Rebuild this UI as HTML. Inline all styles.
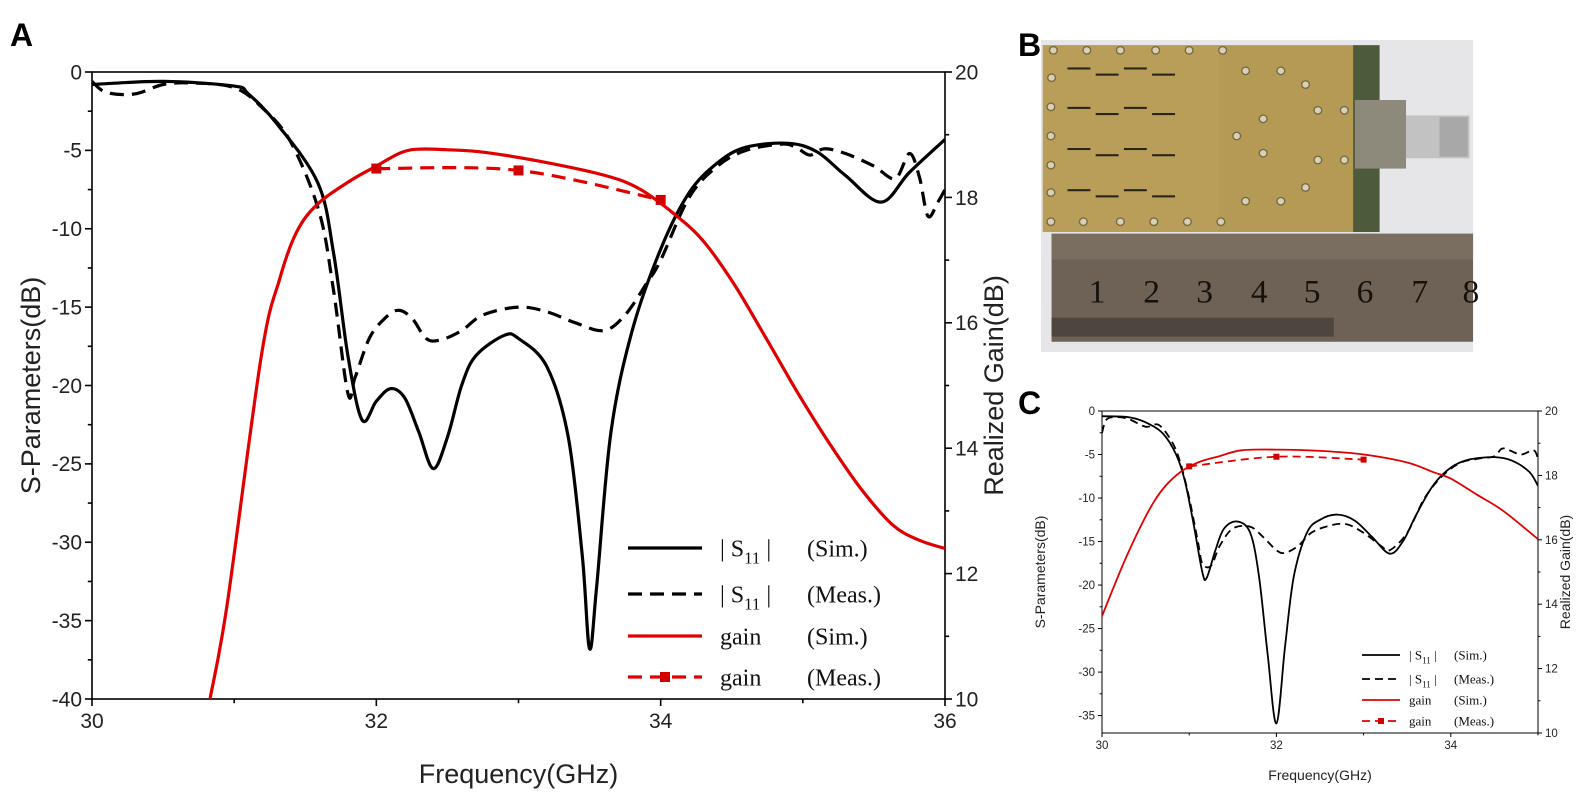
<!DOCTYPE html>
<html><head><meta charset="utf-8">
<style>
html,body{margin:0;padding:0;background:#fff;}
body{width:1582px;height:799px;overflow:hidden;position:relative;font-family:"Liberation Sans",sans-serif;}
svg{position:absolute;left:0;top:0;}
</style></head>
<body>
<svg id="fig" width="1582" height="799" viewBox="0 0 1582 799">
  <text x="10" y="46" font-size="32" font-weight="bold">A</text>
  <text x="1018" y="56" font-size="32" font-weight="bold">B</text>
  <text x="1018" y="414" font-size="32" font-weight="bold">C</text>
  <g id="photo" transform="translate(1041,40) scale(0.3527,0.3429)">
    <rect x="0" y="0" width="1225" height="910" fill="#e6e6e8"/>
    <rect x="5" y="15" width="885" height="545" fill="#b59a55"/>
    <rect x="5" y="15" width="500" height="545" fill="#bca15c" opacity="0.5"/>
    <rect x="885" y="15" width="75" height="545" fill="#4e5a3c"/>
    <rect x="890" y="175" width="145" height="200" fill="#8d8a7c"/>
    <rect x="1035" y="220" width="180" height="125" fill="#c2c2c2"/>
    <rect x="1130" y="225" width="80" height="115" fill="#a8a8a8"/>
    <rect x="30" y="565" width="1195" height="315" fill="#6e6256"/>
    <rect x="30" y="565" width="1195" height="75" fill="#7a6e60"/>
    <rect x="30" y="810" width="800" height="55" fill="#4e463e"/>
    <g fill="#15110d" font-family="Liberation Serif,serif" font-size="95">
      <text x="135" y="765">1</text><text x="290" y="765">2</text><text x="440" y="765">3</text><text x="595" y="765">4</text><text x="745" y="765">5</text><text x="895" y="765">6</text><text x="1050" y="765">7</text><text x="1195" y="765">8</text>
    </g>
    <g id="vias" fill="#d8d0b8" stroke="#7a6a40" stroke-width="4"></g>
    <g id="slots" fill="#2a2418"></g>
  </g>
  <g id="panelA"></g>
  <g id="panelC"></g>
</svg>
<script>
// ---------- Panel A data ----------
const aS11SimF = [30,30.5,31,31.1,31.3,31.59,31.7,31.8,31.9,32.0,32.1,32.2,32.3,32.4,32.5,32.6,32.7,32.9,33.0,33.2,33.35,33.45,33.5,33.55,33.65,33.8,34.0,34.2,34.4,34.6,34.9,35.1,35.3,35.55,35.75,36];
const aS11SimV = [-0.8,-0.6,-0.9,-1.4,-3.3,-7.1,-11.6,-18.1,-22.2,-21,-20.2,-20.8,-23,-25.3,-23.3,-20,-18.1,-16.8,-17,-18.8,-23.3,-31,-36.8,-32.8,-23,-16.5,-11.3,-7.7,-5.8,-4.8,-4.55,-5.1,-6.6,-8.3,-6.4,-4.3];
const aS11MeasF = [30,30.1,30.3,30.5,30.7,31,31.2,31.4,31.6,31.7,31.8,31.85,31.95,32.05,32.15,32.25,32.35,32.45,32.6,32.75,33.0,33.2,33.4,33.6,33.75,33.9,34.0,34.2,34.4,34.6,34.85,34.95,35.05,35.15,35.3,35.5,35.65,35.75,35.82,35.88,35.95,36];
const aS11MeasV = [-0.6,-1.3,-1.4,-0.8,-0.7,-1.0,-2.3,-4.5,-9,-14,-20.5,-19.5,-17,-15.8,-15.2,-15.7,-17,-17.1,-16.5,-15.5,-15,-15.3,-16,-16.5,-15.5,-13.5,-12,-8,-6,-5,-4.6,-4.8,-5.3,-4.9,-5.2,-6,-6.8,-5.2,-6.7,-9.2,-8.3,-7.5];
const aGainSimF = [30.83,30.95,31.19,31.32,31.44,31.59,31.82,32.0,32.18,32.31,32.49,32.76,33.21,33.61,33.84,34.06,34.29,34.51,34.73,34.96,35.18,35.41,35.63,35.81,36];
const aGainSimV = [10,11.5,15.46,16.7,17.45,17.9,18.27,18.5,18.72,18.77,18.76,18.72,18.55,18.35,18.15,17.8,17.33,16.64,15.8,14.9,14.1,13.35,12.78,12.54,12.4];
const aGainMeasF = [32,33,34];
const aGainMeasV = [18.46,18.43,17.96];
const aXTicks = [30,32,34,36];
const aYTicks = [0,-5,-10,-15,-20,-25,-30,-35,-40];
const aY2Ticks = [10,12,14,16,18,20];
// ---------- Panel C data ----------
const cS11SimF = [30,30.3,30.5,30.7,30.85,30.95,31.05,31.15,31.2,31.3,31.4,31.55,31.7,31.8,31.9,32.0,32.1,32.2,32.35,32.5,32.7,32.9,33.1,33.3,33.45,33.6,33.8,34.0,34.2,34.5,34.7,34.9,35];
const cS11SimV = [-0.6,-0.7,-1.3,-2.6,-5,-8,-13,-18.5,-19.2,-16,-13.5,-12.7,-14,-19,-28,-35.9,-27,-19,-14,-12.5,-11.9,-12.6,-14.5,-16.4,-15,-12,-8.5,-6.5,-5.6,-5.3,-5.7,-7,-8.6];
const cS11MeasF = [30,30.05,30.15,30.3,30.5,30.65,30.8,30.9,31.0,31.1,31.15,31.25,31.35,31.5,31.7,31.85,32.0,32.1,32.25,32.4,32.6,32.8,33.0,33.2,33.3,33.5,33.7,33.9,34.1,34.3,34.5,34.6,34.8,34.95,35];
const cS11MeasV = [-2.5,-1,-0.7,-0.9,-1.8,-1.6,-3.5,-6,-10,-15,-17.5,-17.8,-15.5,-13.5,-13.3,-14.5,-16,-16.3,-15.5,-14,-13.2,-13,-14,-15.5,-16,-14,-10,-7.5,-6,-5.5,-5.2,-4.3,-5,-4.5,-5.5];
const cGainSimF = [30,30.3,30.6,30.85,31.1,31.35,31.6,32.0,32.5,33.0,33.5,33.8,34.0,34.3,34.6,35];
const cGainSimV = [13.63,15.6,17.2,18.0,18.4,18.6,18.78,18.8,18.76,18.65,18.4,18.1,17.9,17.4,16.9,16.02];
const cGainMeasF = [31,32,33];
const cGainMeasV = [18.28,18.58,18.49];
const cXTicks = [30,32,34];
const cYTicks = [0,-5,-10,-15,-20,-25,-30,-35];
const cY2Ticks = [10,12,14,16,18,20];

const NS='http://www.w3.org/2000/svg';
function mk(parent,tag,attrs,text){const e=document.createElementNS(NS,tag);for(const k in attrs)e.setAttribute(k,attrs[k]);if(text!==undefined)e.textContent=text;parent.appendChild(e);return e;}
function smoothPath(P){
  let d='M'+P[0][0].toFixed(1)+','+P[0][1].toFixed(1);
  for(let i=0;i<P.length-1;i++){
    const p0=P[i-1]||P[i],p1=P[i],p2=P[i+1],p3=P[i+2]||P[i+1];
    const t=1/6;
    const c1=[p1[0]+(p2[0]-p0[0])*t,p1[1]+(p2[1]-p0[1])*t];
    const c2=[p2[0]-(p3[0]-p1[0])*t,p2[1]-(p3[1]-p1[1])*t];
    d+=' C'+c1[0].toFixed(1)+','+c1[1].toFixed(1)+' '+c2[0].toFixed(1)+','+c2[1].toFixed(1)+' '+p2[0].toFixed(1)+','+p2[1].toFixed(1);
  }
  return d;
}

function drawPanel(g,cfg,d){
  const X=f=>cfg.L+(f-cfg.x0)/(cfg.x1-cfg.x0)*(cfg.R-cfg.L);
  const Y=v=>cfg.T+(cfg.y0-v)/(cfg.y0-cfg.y1)*(cfg.B-cfg.T);
  const Y2=v=>cfg.T+(cfg.g1-v)/(cfg.g1-cfg.g0)*(cfg.B-cfg.T);
  const cp=mk(g,'clipPath',{id:cfg.id+'clip'});mk(cp,'rect',{x:cfg.L,y:cfg.T,width:cfg.R-cfg.L,height:cfg.B-cfg.T});
  const box=mk(g,'rect',{x:cfg.L,y:cfg.T,width:cfg.R-cfg.L,height:cfg.B-cfg.T,fill:'none',stroke:'#000','stroke-width':cfg.ax});
  
  
  const tl=cfg.tick;
  for(let f=cfg.x0;f<=cfg.x1+1e-9;f+=1){const major=d.xt.indexOf(f)>=0;mk(g,'line',{x1:X(f),x2:X(f),y1:cfg.B,y2:cfg.B+(major?tl:tl*0.6),stroke:'#000','stroke-width':cfg.ax});}
  d.xt.forEach(f=>{const t=mk(g,'text',{x:X(f),y:cfg.B+tl+cfg.fs*1.05,'font-size':cfg.fs,'text-anchor':'middle',fill:'#222'},String(f));
    
    });
  for(let v=cfg.y0;v>=cfg.y1-1e-9;v-=2.5){const major=d.yt.indexOf(v)>=0;mk(g,'line',{x1:cfg.L,x2:cfg.L-(major?tl:tl*0.6),y1:Y(v),y2:Y(v),stroke:'#000','stroke-width':cfg.ax});}
  d.yt.forEach(v=>{const t=mk(g,'text',{x:cfg.L-tl-3,y:Y(v)+cfg.fs*0.35,'font-size':cfg.fs,'text-anchor':'end',fill:'#222'},String(v));
    
    });
  for(let v=cfg.g0;v<=cfg.g1;v+=1){const major=d.y2t.indexOf(v)>=0;mk(g,'line',{x1:cfg.R,x2:cfg.R+(major?tl:tl*0.6),y1:Y2(v),y2:Y2(v),stroke:'#000','stroke-width':cfg.ax});}
  d.y2t.forEach(v=>{const t=mk(g,'text',{x:cfg.R+tl+3,y:Y2(v)+cfg.fs*0.35,'font-size':cfg.fs,'text-anchor':'start',fill:'#222'},String(v));
    
    });
  const xt=mk(g,'text',{x:(cfg.L+cfg.R)/2,y:cfg.xtY,'font-size':cfg.tfs,'text-anchor':'middle',fill:'#222'},'Frequency(GHz)');
  
  
  const yt=mk(g,'text',{x:0,y:0,'font-size':cfg.tfs,'text-anchor':'middle',fill:'#222',transform:`translate(${cfg.ytX},${(cfg.T+cfg.B)/2}) rotate(-90)`},'S-Parameters(dB)');
  
  
  const y2=mk(g,'text',{x:0,y:0,'font-size':cfg.tfs,'text-anchor':'middle',fill:'#222',transform:`translate(${cfg.y2tX},${(cfg.T+cfg.B)/2}) rotate(-90)`},'Realized Gain(dB)');
  
  
  const cg=mk(g,'g',{'clip-path':`url(#${cfg.id}clip)`,fill:'none','stroke-linejoin':'round'});
  const pts=(F,V,fy)=>smoothPath(F.map((f,i)=>[X(f),fy(V[i])]));
  const l1=mk(cg,'path',{d:pts(d.ssF,d.ssV,Y),stroke:'#000','stroke-width':cfg.lw});
  
  
  const l2=mk(cg,'path',{d:pts(d.smF,d.smV,Y),stroke:'#000','stroke-width':cfg.lw,'stroke-dasharray':cfg.dash});
  
  
  const l3=mk(cg,'path',{d:pts(d.gsF,d.gsV,Y2),stroke:'#e00000','stroke-width':cfg.lw});
  
  
  const l4=mk(cg,'path',{d:pts(d.gmF,d.gmV,Y2),stroke:'#e00000','stroke-width':cfg.lw,'stroke-dasharray':cfg.dash});
  
  
  d.gmF.forEach((f,i)=>{const m=mk(g,'rect',{x:X(f)-cfg.ms/2,y:Y2(d.gmV[i])-cfg.ms/2,width:cfg.ms,height:cfg.ms,fill:'#d00000'});
    
    });
  const lg=mk(g,'g',{'font-family':'"Liberation Serif",serif','font-size':cfg.lfs,fill:'#111'});
  
  
  const rows=[['#000',null,'| S','11',' | ','(Sim.)'],['#000',cfg.dash,'| S','11',' | ','(Meas.)'],['#e00000',null,'gain','','','(Sim.)'],['#e00000',cfg.dash,'gain','','','(Meas.)']];
  rows.forEach((r,i)=>{const y=cfg.legY[i];
    const e=mk(lg,'g',{});
    
    
    const ln={x1:cfg.legX0,x2:cfg.legX1,y1:y,y2:y,stroke:r[0],'stroke-width':cfg.lw};if(r[1])ln['stroke-dasharray']=r[1];mk(e,'line',ln);
    if(i===3)mk(e,'rect',{x:(cfg.legX0+cfg.legX1)/2-cfg.ms/2,y:y-cfg.ms/2,width:cfg.ms,height:cfg.ms,fill:'#d00000'});
    const t=mk(e,'text',{x:cfg.legTX,y:y+cfg.lfs*0.35});
    mk(t,'tspan',{},r[2]);if(r[3]){mk(t,'tspan',{dy:cfg.lfs*0.3,'font-size':cfg.lfs*0.7},r[3]);mk(t,'tspan',{dy:-cfg.lfs*0.3},r[4]);}
    mk(e,'text',{x:cfg.legTX2,y:y+cfg.lfs*0.35},r[5]);
  });
}
drawPanel(document.getElementById('panelA'),
 {id:'a',L:92,R:945,T:72,B:699,x0:30,x1:36,y0:0,y1:-40,g0:10,g1:20,ax:1.6,tick:7,fs:21,tfs:27,lfs:24,lw:3.2,dash:'14,8',ms:10,
  xtY:783,ytX:40,y2tX:1003,legX0:628,legX1:702,legTX:720,legTX2:807,legY:[548,594,636,677]},
 {ssF:aS11SimF,ssV:aS11SimV,smF:aS11MeasF,smV:aS11MeasV,gsF:aGainSimF,gsV:aGainSimV,gmF:aGainMeasF,gmV:aGainMeasV,xt:aXTicks,yt:aYTicks,y2t:aY2Ticks});
drawPanel(document.getElementById('panelC'),
 {id:'c',L:1102,R:1538,T:411,B:733,x0:30,x1:35,y0:0,y1:-37,g0:10,g1:20,ax:1,tick:4,fs:11.5,tfs:14,lfs:13,lw:1.8,dash:'8,5',ms:6,
  xtY:780,ytX:1045,y2tX:1570,legX0:1362,legX1:1400,legTX:1409,legTX2:1454,legY:[655,679,700,721]},
 {ssF:cS11SimF,ssV:cS11SimV,smF:cS11MeasF,smV:cS11MeasV,gsF:cGainSimF,gsV:cGainSimV,gmF:cGainMeasF,gmV:cGainMeasV,xt:cXTicks,yt:cYTicks,y2t:cY2Ticks});

const vias=document.getElementById('vias');
[[35,30],[130,30],[225,30],[325,30],[420,30],[515,30],[30,110],[28,195],[28,280],[28,365],[28,445],[28,530],[120,530],[225,530],[320,530],[415,530],[510,530],[580,90],[680,90],[750,130],[785,205],[860,205],[630,230],[555,280],[630,330],[785,350],[860,350],[750,430],[680,470],[580,470]].forEach(p=>{
  const c=document.createElementNS(NS,'circle');c.setAttribute('cx',p[0]);c.setAttribute('cy',p[1]);c.setAttribute('r',11);vias.appendChild(c);});
const slots=document.getElementById('slots');
[85,200,320,440].forEach((y,i)=>{[[75,0],[155,18],[235,0],[315,18]].forEach(s=>{
  const r=document.createElementNS(NS,'rect');r.setAttribute('x',s[0]);r.setAttribute('y',y+s[1]-5);r.setAttribute('width',65);r.setAttribute('height',6);slots.appendChild(r);});});
</script>
</body></html>
